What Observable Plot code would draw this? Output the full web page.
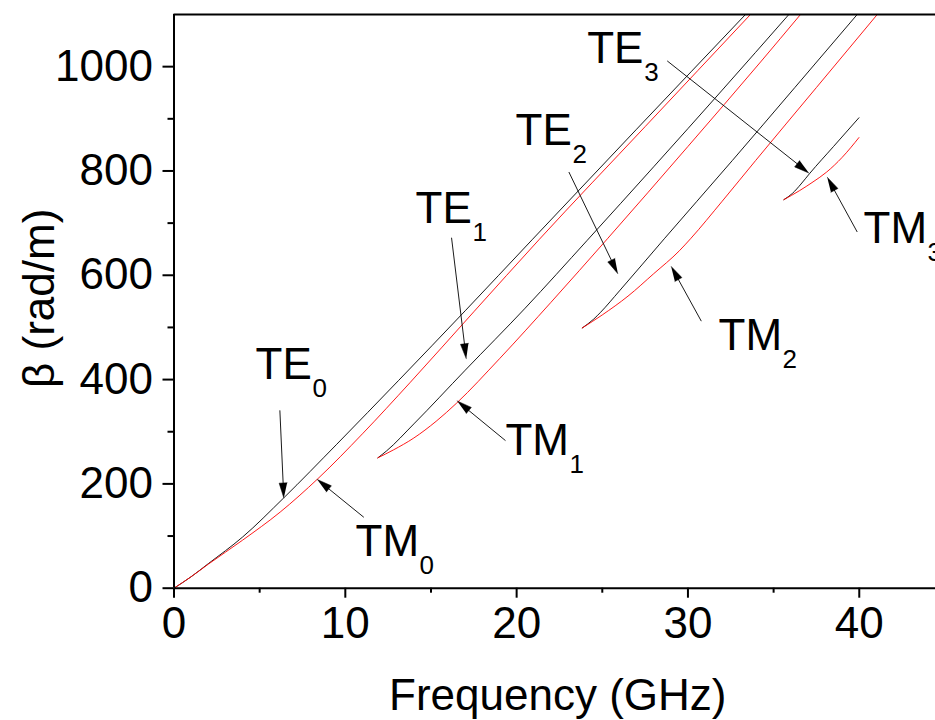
<!DOCTYPE html>
<html><head><meta charset="utf-8">
<script src="https://cdn.jsdelivr.net/npm/d3@7"></script>
<script src="https://cdn.jsdelivr.net/npm/@observablehq/plot@0.6"></script>
<style>body{margin:0;background:#fff;}</style>
</head><body><div id="chart"></div>
<script>
// ---- data (frequency in GHz, beta in rad/m) ----
const te0Freq = [0, 1, 2, 4, 6.4, 9.5, 13.1, 17, 20.9, 27, 33.36];
const te0Beta = [0, 22, 47, 98, 173, 276, 398, 532, 668, 880, 1100];
const tm0Freq = [0, 1, 2, 4, 6.2, 8.4, 11, 13.8, 17.5, 21.3, 27.5, 33.65];
const tm0Beta = [0, 22, 46, 92, 146, 210, 296, 395, 530, 668, 885, 1100];
const te1Freq = [11.9, 12.4, 14, 17, 20.5, 24.12, 28, 32, 35.89];
const te1Beta = [250, 263, 315, 418, 537, 667, 808, 955, 1100];
const tm1Freq = [11.9, 12.8, 14, 15.3, 16.5, 19, 22, 25.3, 30, 34.24, 36.57];
const tm1Beta = [250, 265, 288, 320, 355, 440, 548, 670, 847, 1009, 1100];
const te2Freq = [23.83, 24.5, 24.9, 26, 28.62, 30.5, 32.59, 36.24, 39.88];
const te2Beta = [499, 516, 529, 570, 670, 741, 820, 960, 1100];
const tm2Freq = [23.83, 25, 26.5, 28, 29.5, 30.15, 32, 33.95, 37.5, 41.05];
const tm2Beta = [499, 524, 560, 603, 647, 670, 742, 820, 960, 1100];
const te3Freq = [35.6, 36.1, 36.6, 37.1, 38.5, 39.98];
const te3Beta = [745, 757, 775, 795, 847, 902];
const tm3Freq = [35.6, 36.5, 37.3, 38.1, 39, 39.98];
const tm3Beta = [745, 762, 779, 798, 826, 864];

const xTicks = [0, 10, 20, 30, 40];
const xMinorTicks = [5, 15, 25, 35];
const yTicks = [0, 200, 400, 600, 800, 1000];
const yMinorTicks = [100, 300, 500, 700, 900];
const xDomain = [0, 44.45];
const yDomain = [0, 1100];

// annotation labels: main text, subscript, label anchor, arrow start, arrow tip
const labelMain = ["TE", "TM", "TE", "TM", "TE", "TM", "TE", "TM"];
const labelSub  = ["0", "0", "1", "1", "2", "2", "3", "3"];
const labelFreq = [4.76, 10.6, 14.1, 19.35, 19.94, 31.79, 24.12, 40.25];
const labelBeta = [402, 62.6, 701, 254.5, 849, 456, 1007, 661];
const arrowFromFreq = [6.18, 11.08, 16.2, 19.35, 23.05, 30.78, 28.79, 39.88];
const arrowFromBeta = [341, 136, 672, 283, 798, 512, 1011, 683];
const arrowTipFreq  = [6.41, 8.36, 17.06, 16.53, 25.91, 29.02, 37.06, 38.13];
const arrowTipBeta  = [173, 208.5, 440, 359, 603, 617, 796, 788];

// ---- build tables ----
const modes = [
  ["TE0", "TE", te0Freq, te0Beta], ["TM0", "TM", tm0Freq, tm0Beta],
  ["TE1", "TE", te1Freq, te1Beta], ["TM1", "TM", tm1Freq, tm1Beta],
  ["TE2", "TE", te2Freq, te2Beta], ["TM2", "TM", tm2Freq, tm2Beta],
  ["TE3", "TE", te3Freq, te3Beta], ["TM3", "TM", tm3Freq, tm3Beta]
];
const rows = modes.flatMap(([mode, kind, fs, bs]) => fs.map((f, i) => ({mode, kind, f, b: bs[i]})));
const annotations = labelMain.map((m, i) => ({
  main: m, sub: labelSub[i], lf: labelFreq[i], lb: labelBeta[i],
  f1: arrowFromFreq[i], b1: arrowFromBeta[i], f2: arrowTipFreq[i], b2: arrowTipBeta[i]
}));

// ---- layout ----
const W = 935, H = 720, mL = 173.5, mR = 0, mT = 14, mB = 132.3;
const FONT = "'Liberation Sans', Arial, Helvetica, sans-serif";
const HEAD_L = 15, HEAD_W = 8;

const xs = Plot.scale({x: {domain: xDomain, range: [mL, W - mR]}});
const ys = Plot.scale({y: {domain: yDomain, range: [H - mB, mT]}});

const heads = [];
const shafts = [];
annotations.forEach((a, i) => {
  const tx = xs.apply(a.f2), ty = ys.apply(a.b2);
  const sx = xs.apply(a.f1), sy = ys.apply(a.b1);
  const d = Math.hypot(tx - sx, ty - sy), ux = (tx - sx) / d, uy = (ty - sy) / d;
  const bx = tx - ux * HEAD_L, by = ty - uy * HEAD_L;
  const px = -uy * HEAD_W / 2, py = ux * HEAD_W / 2;
  [[tx, ty], [bx + px, by + py], [bx - px, by - py]].forEach(([x, y]) =>
    heads.push({id: i, f: xs.invert(x), b: ys.invert(y)}));
  shafts.push({f1: a.f1, b1: a.b1, f2: xs.invert(bx + ux * 2), b2: ys.invert(by + uy * 2)});
});

const chart = Plot.plot({
  width: W, height: H,
  marginLeft: mL, marginRight: mR, marginTop: mT, marginBottom: mB,
  style: {fontFamily: FONT, background: "#fff", color: "#000", overflow: "visible"},
  x: {domain: xDomain},
  y: {domain: yDomain},
  marks: [
    Plot.line(rows.filter(d => d.kind === "TE"), {x: "f", y: "b", z: "mode", stroke: "#000", strokeWidth: 0.9, curve: "monotone-x"}),
    Plot.line(rows.filter(d => d.kind === "TM"), {x: "f", y: "b", z: "mode", stroke: "#ff0000", strokeWidth: 0.9, curve: "monotone-x"}),
    Plot.link(shafts, {x1: "f1", y1: "b1", x2: "f2", y2: "b2", stroke: "#000", strokeWidth: 0.9}),
    Plot.line(heads, {x: "f", y: "b", z: "id", fill: "#000", stroke: "#000", strokeWidth: 0.5}),
    Plot.text(annotations, {x: "lf", y: "lb", text: "main", textAnchor: "start", lineAnchor: "bottom", fontSize: 44, fill: "#000"}),
    Plot.text(annotations.filter(d => d.main === "TE"), {x: "lf", y: "lb", text: "sub", textAnchor: "start", lineAnchor: "bottom", fontSize: 26, dx: 57, dy: 18, fill: "#000"}),
    Plot.text(annotations.filter(d => d.main === "TM"), {x: "lf", y: "lb", text: "sub", textAnchor: "start", lineAnchor: "bottom", fontSize: 26, dx: 64, dy: 18, fill: "#000"}),
    Plot.axisX({ticks: xTicks, tickSize: 10, tickPadding: 9, fontSize: 44, label: null, strokeWidth: 2, tickFormat: d => String(d)}),
    Plot.axisX({ticks: xMinorTicks, tickSize: 5, tickFormat: () => "", label: null, strokeWidth: 2}),
    Plot.axisY({ticks: yTicks, tickSize: 11, tickPadding: 10, fontSize: 44, label: null, strokeWidth: 2, tickFormat: d => String(d)}),
    Plot.axisY({ticks: yMinorTicks, tickSize: 6, tickFormat: () => "", label: null, strokeWidth: 2}),
    Plot.ruleX([xDomain[0]], {stroke: "#000", strokeWidth: 2}),
    Plot.ruleY([yDomain[0]], {stroke: "#000", strokeWidth: 2}),
    Plot.ruleY([yDomain[1]], {stroke: "#000", strokeWidth: 2}),
    Plot.text(["Frequency (GHz)"], {frameAnchor: "bottom", lineAnchor: "middle", textAnchor: "middle", dx: 3, dy: 108, fontSize: 44, fill: "#000"}),
    Plot.text(["β (rad/m)"], {frameAnchor: "left", lineAnchor: "middle", textAnchor: "middle", rotate: -90, dx: -134.5, dy: -3, fontSize: 44, fill: "#000"})
  ]
});
document.getElementById("chart").appendChild(chart);
</script></body></html>
